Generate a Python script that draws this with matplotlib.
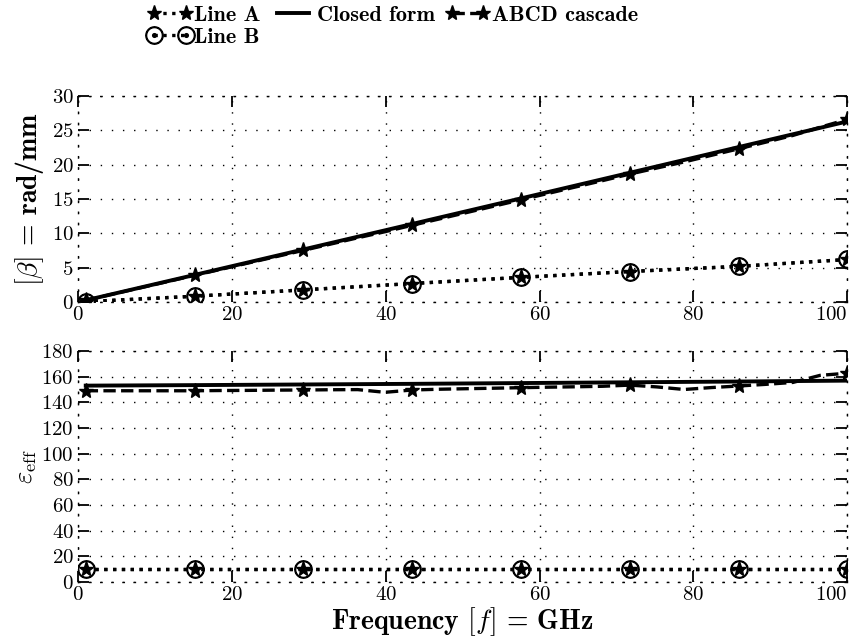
import matplotlib
matplotlib.use("Agg")
import matplotlib.pyplot as plt

plt.rcParams['font.family'] = ['cmr10', 'DejaVu Serif']
plt.rcParams['mathtext.fontset'] = 'cm'
plt.rcParams['axes.formatter.use_mathtext'] = True
plt.rcParams['axes.unicode_minus'] = False

# marker frequencies (GHz)
freq = [1.0, 15.14, 29.29, 43.43, 57.57, 71.71, 85.86, 100.0]
# fine frequency grid for the ABCD cascade
freq_fine = [1.00, 4.54, 8.07, 11.61, 15.14, 18.68, 22.21, 25.75, 29.29, 32.82,
             36.36, 39.89, 43.43, 46.96, 50.50, 54.04, 57.57, 61.11, 64.64, 68.18,
             71.71, 75.25, 78.79, 82.32, 85.86, 89.39, 92.93, 96.46, 100.00]

beta_line_a = [0.06, 0.85, 1.78, 2.7, 3.6, 4.45, 5.2, 6.2]
beta_line_b = [0.06, 0.85, 1.78, 2.7, 3.6, 4.45, 5.2, 6.2]
beta_closed = [0.26, 3.95, 7.66, 11.37, 15.09, 18.82, 22.56, 26.30]
beta_abcd = [0.26, 1.17, 2.07, 2.98, 3.89, 4.80, 5.71, 6.62, 7.53, 8.44,
             9.36, 10.24, 11.18, 12.10, 13.03, 13.96, 14.89, 15.82, 16.75, 17.68,
             18.63, 19.52, 20.40, 21.36, 22.31, 23.28, 24.26, 25.45, 26.60]

eps_line_a = [9.8, 9.8, 9.8, 9.8, 9.8, 9.8, 9.8, 9.8]
eps_line_b = [9.8, 9.8, 9.8, 9.8, 9.8, 9.8, 9.8, 9.8]
eps_closed = [153.0, 153.4, 153.9, 154.4, 155.0, 155.6, 156.2, 156.9]
eps_abcd = [149.0, 149.0, 149.0, 149.0, 149.0, 149.2, 149.3, 149.5, 149.6, 149.8,
            149.9, 147.8, 149.6, 150.2, 150.6, 151.0, 151.4, 151.8, 152.1, 152.5,
            153.4, 152.0, 150.0, 151.5, 152.7, 154.0, 155.5, 161.0, 162.7]

fig = plt.figure(figsize=(8.51, 6.4), dpi=100)
ax1 = fig.add_axes([0.0917, 0.528, 0.904, 0.322])
ax2 = fig.add_axes([0.0917, 0.0906, 0.904, 0.361])

lw = 2.4
ms_star = 11
ms_odot = 12.5
grid_ls = (0, (1, 7))


def draw(ax, a, b, cf, abcd):
    hb, = ax.plot(freq, b, ':', color='k', lw=lw, marker=r'$\odot$', ms=ms_odot,
                  label='Line B')
    ha, = ax.plot(freq, a, ':', color='k', lw=lw, marker='*', ms=ms_star,
                  label='Line A')
    hc, = ax.plot(freq, cf, '-', color='k', lw=lw + 0.4, label='Closed form')
    hd, = ax.plot(freq_fine, abcd, '--', color='k', lw=lw, marker='*',
                  ms=ms_star, markevery=4, label='ABCD cascade')
    return ha, hb, hc, hd


handles = draw(ax1, beta_line_a, beta_line_b, beta_closed, beta_abcd)
draw(ax2, eps_line_a, eps_line_b, eps_closed, eps_abcd)

ax1.set_xlim(0, 100)
ax1.set_ylim(0, 30)
ax1.set_yticks(range(0, 31, 5))
ax2.set_xlim(0, 100)
ax2.set_ylim(0, 180)
ax2.set_yticks(range(0, 181, 20))

for ax in (ax1, ax2):
    ax.set_xticks(range(0, 101, 20))
    ax.grid(True, linestyle=grid_ls, color='k', lw=1.0)
    for s in ax.spines.values():
        s.set_linestyle(grid_ls)
        s.set_linewidth(1.0)
    ax.tick_params(direction='in', length=8, width=1.3, top=True, right=True,
                   labelsize=15, pad=3)
    # keep the last tick label inside the figure
    ax.get_xticklabels()[-1].set_horizontalalignment('right')

ax1.set_ylabel(r'$[\beta]$ = rad/mm', fontfamily='cmb10', fontsize=20, labelpad=4)
ax2.set_ylabel(r'$\varepsilon_{\mathrm{eff}}$', fontsize=19, labelpad=2)
ax2.set_xlabel(r'Frequency $[f]$ = GHz', fontfamily='cmb10', fontsize=20, labelpad=1)

fig.legend([handles[0], handles[1], handles[2], handles[3]],
           ['Line A', 'Line B', 'Closed form', 'ABCD cascade'],
           ncol=3, loc='upper left', bbox_to_anchor=(0.158, 1.012), frameon=False,
           prop={'family': 'cmb10', 'size': 16}, handlelength=2.0,
           handletextpad=0.1, columnspacing=0.45, labelspacing=0.1,
           numpoints=2, borderaxespad=0.2)

fig.savefig('out.png', dpi=100)
